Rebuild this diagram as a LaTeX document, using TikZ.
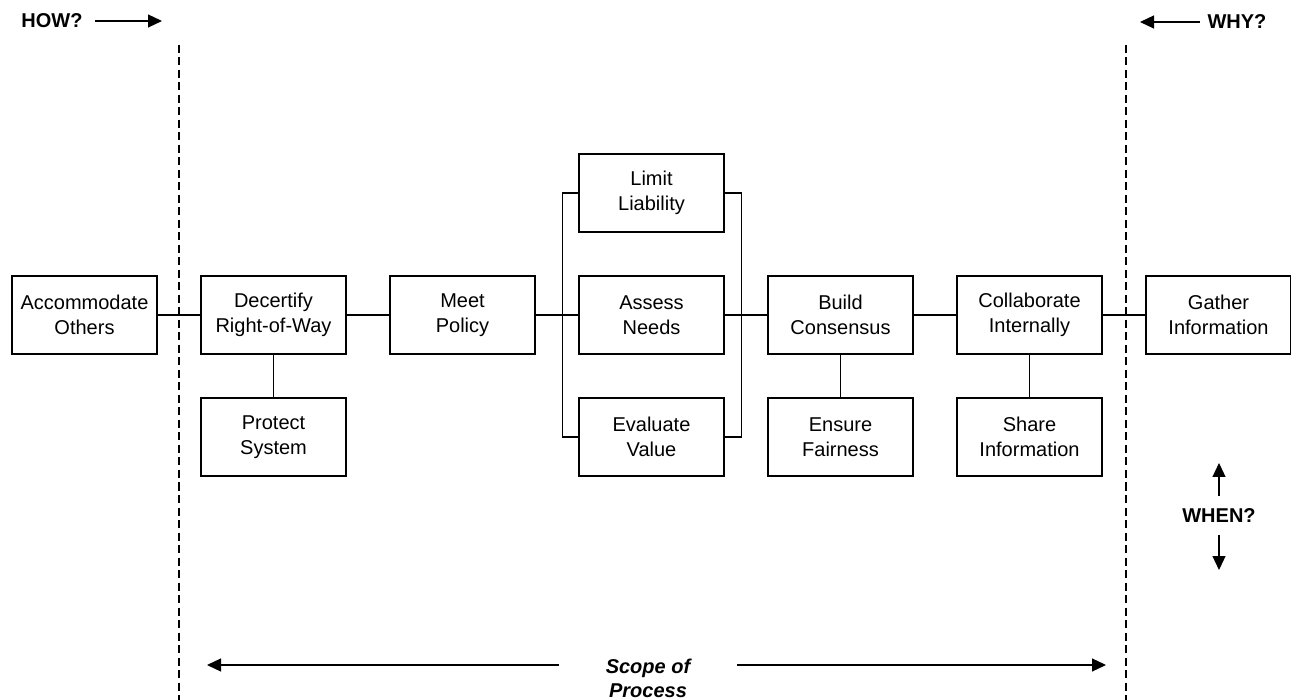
\documentclass[tikz,border=0pt]{standalone}
\usepackage{fontspec}
\setmainfont{Liberation Sans}
\usetikzlibrary{positioning,arrows.meta}
\newcommand{\widthtask}{145pt}
\newcommand{\heighttask}{78pt}
\newcommand{\tagfont}{\fontsize{20}{24}\selectfont\bfseries}
\tikzset{
    task/.style={draw, rectangle, line width=1.2pt, inner sep=0pt, align=center,
        minimum width=\widthtask, minimum height=\heighttask,
        font=\fontsize{20}{25}\selectfont},
    link/.style={line width=1.2pt},
    boundary/.style={line width=1.2pt, dash pattern=on 8pt off 4.5pt},
    axis/.style={line width=1.2pt, -{Triangle[length=14pt, width=13pt]}},
    tag/.style={font=\tagfont},
    scopetag/.style={align=center, font=\fontsize{20}{24}\selectfont\bfseries\itshape}
}

\begin{document}
\begin{tikzpicture}[x=1pt, y=-1pt, node distance=42.8pt]
    \useasboundingbox (0,0) rectangle (1291,700);

    % main row of functions
    \node[task] (acc) at (84.5,315) {Accommodate\\Others};
    \node[task, right=of acc] (dec) {Decertify\\Right-of-Way};
    \node[task, below=of dec] (prot) {Protect\\System};
    \node[task, right=of dec] (meet) {Meet\\Policy};
    \node[task, right=of meet] (assess) {Assess\\Needs};
    \node[task, above=of assess] (limit) {Limit\\Liability};
    \node[task, below=of assess] (eval) {Evaluate\\Value};
    \node[task, right=of assess] (build) {Build\\Consensus};
    \node[task, below=of build] (fair) {Ensure\\Fairness};
    \node[task, right=of build] (collab) {Collaborate\\Internally};
    \node[task, below=of collab] (share) {Share\\Information};
    \node[task, right=of collab] (gather) {Gather\\Information};

    % brackets round the middle column
    \coordinate[left=16pt of limit.west] (lbtop);
    \coordinate[left=16pt of eval.west] (lbbot);
    \coordinate[right=17pt of limit.east] (rbtop);
    \coordinate[right=17pt of eval.east] (rbbot);

    \draw[link] (acc) -- (dec) -- (meet) -- (assess) -- (build) -- (collab) -- (gather);
    \draw[link] (dec) -- (prot) (build) -- (fair) (collab) -- (share);
    \draw[link] (limit.west) -- (lbtop) -- (lbbot) -- (eval.west);
    \draw[link] (limit.east) -- (rbtop) -- (rbbot) -- (eval.east);

    % scope boundaries
    \coordinate (lefttop) at (179,45);
    \coordinate (leftbot) at (179,700);
    \coordinate (righttop) at (1126,45);
    \coordinate (rightbot) at (1126,700);
    \draw[boundary] (lefttop) -- (leftbot);
    \draw[boundary] (righttop) -- (rightbot);

    % direction tags
    \node[tag] (how) at (52,21) {HOW?};
    \coordinate (howfrom) at (95,21);
    \coordinate (howto) at (162,21);
    \draw[axis] (howfrom) -- (howto);

    \node[tag] (why) at (1237,22) {WHY?};
    \coordinate (whyfrom) at (1200,22);
    \coordinate (whyto) at (1140,22);
    \draw[axis] (whyfrom) -- (whyto);

    \node[tag] (when) at (1219,516) {WHEN?};
    \coordinate (upfrom) at (1219,496);
    \coordinate (upto) at (1219,463);
    \coordinate (downfrom) at (1219,535);
    \coordinate (downto) at (1219,570);
    \draw[axis] (upfrom) -- (upto);
    \draw[axis] (downfrom) -- (downto);

    \node[scopetag] (scope) at (648,678) {Scope of\\Process};
    \coordinate (scopeleftfrom) at (559,665);
    \coordinate (scopeleftto) at (207,665);
    \coordinate (scoperightfrom) at (737,665);
    \coordinate (scoperightto) at (1106,665);
    \draw[axis] (scopeleftfrom) -- (scopeleftto);
    \draw[axis] (scoperightfrom) -- (scoperightto);
\end{tikzpicture}
\end{document}
